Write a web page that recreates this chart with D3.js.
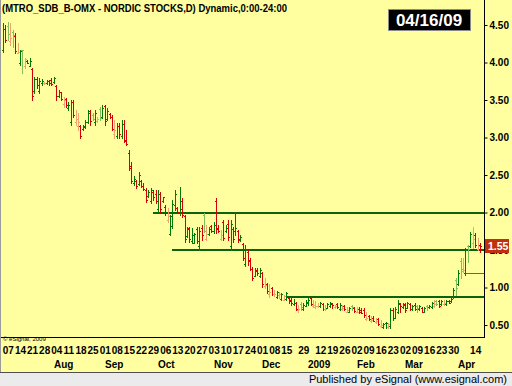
<!DOCTYPE html>
<html>
<head>
<meta charset="utf-8">
<script src="https://cdn.jsdelivr.net/npm/d3@7"></script>
<style>
  html, body { margin: 0; padding: 0; background: #ffffa0; }
  svg { display: block; }
  text { font-family: "Liberation Sans", Arial, sans-serif; }
</style>
</head>
<body>
<div id="chart"></div>
<script>
// Daily trading sessions, grouped by month
var jul08Days = ["2008-07-03","2008-07-04","2008-07-07","2008-07-08","2008-07-09","2008-07-10","2008-07-11","2008-07-14","2008-07-15","2008-07-16","2008-07-17","2008-07-18","2008-07-21","2008-07-22","2008-07-23","2008-07-24","2008-07-25","2008-07-28","2008-07-29","2008-07-30","2008-07-31"];
var aug08Days = ["2008-08-01","2008-08-04","2008-08-05","2008-08-06","2008-08-07","2008-08-08","2008-08-11","2008-08-12","2008-08-13","2008-08-14","2008-08-15","2008-08-18","2008-08-19","2008-08-20","2008-08-21","2008-08-22","2008-08-25","2008-08-26","2008-08-27","2008-08-28","2008-08-29"];
var sep08Days = ["2008-09-01","2008-09-02","2008-09-03","2008-09-04","2008-09-05","2008-09-08","2008-09-09","2008-09-10","2008-09-11","2008-09-12","2008-09-15","2008-09-16","2008-09-17","2008-09-18","2008-09-19","2008-09-22","2008-09-23","2008-09-24","2008-09-25","2008-09-26","2008-09-29","2008-09-30"];
var oct08Days = ["2008-10-01","2008-10-02","2008-10-03","2008-10-06","2008-10-07","2008-10-08","2008-10-09","2008-10-10","2008-10-13","2008-10-14","2008-10-15","2008-10-16","2008-10-17","2008-10-20","2008-10-21","2008-10-22","2008-10-23","2008-10-24","2008-10-27","2008-10-28","2008-10-29","2008-10-30","2008-10-31"];
var nov08Days = ["2008-11-03","2008-11-04","2008-11-05","2008-11-06","2008-11-07","2008-11-10","2008-11-11","2008-11-12","2008-11-13","2008-11-14","2008-11-17","2008-11-18","2008-11-19","2008-11-20","2008-11-21","2008-11-24","2008-11-25","2008-11-26","2008-11-27","2008-11-28"];
var dec08Days = ["2008-12-01","2008-12-02","2008-12-03","2008-12-04","2008-12-05","2008-12-08","2008-12-09","2008-12-10","2008-12-11","2008-12-12","2008-12-15","2008-12-16","2008-12-17","2008-12-18","2008-12-19","2008-12-22","2008-12-23","2008-12-29","2008-12-30"];
var jan09Days = ["2009-01-02","2009-01-05","2009-01-07","2009-01-08","2009-01-09","2009-01-12","2009-01-13","2009-01-14","2009-01-15","2009-01-16","2009-01-19","2009-01-20","2009-01-21","2009-01-22","2009-01-23","2009-01-26","2009-01-27","2009-01-28","2009-01-29","2009-01-30"];
var feb09Days = ["2009-02-02","2009-02-03","2009-02-04","2009-02-05","2009-02-06","2009-02-09","2009-02-10","2009-02-11","2009-02-12","2009-02-13","2009-02-16","2009-02-17","2009-02-18","2009-02-19","2009-02-20","2009-02-23","2009-02-24","2009-02-25","2009-02-26","2009-02-27"];
var mar09Days = ["2009-03-02","2009-03-03","2009-03-04","2009-03-05","2009-03-06","2009-03-09","2009-03-10","2009-03-11","2009-03-12","2009-03-13","2009-03-16","2009-03-17","2009-03-18","2009-03-19","2009-03-20","2009-03-23","2009-03-24","2009-03-25","2009-03-26","2009-03-27","2009-03-30","2009-03-31"];
var apr09Days = ["2009-04-01","2009-04-02","2009-04-03","2009-04-06","2009-04-07","2009-04-08","2009-04-09","2009-04-14","2009-04-15","2009-04-16"];

// Bars per month: [open, high, low, close]
var jul08 = [[4.16,4.53,4.14,4.45],[4.45,4.50,4.27,4.30],[4.48,4.54,4.30,4.38],[4.28,4.53,4.23,4.33],[4.40,4.43,4.21,4.36],[4.35,4.39,4.13,4.15],[4.13,4.26,4.13,4.14],[3.99,4.17,3.97,4.15],[4.17,4.17,3.86,4.16],[3.95,4.06,3.93,4.05],[4.02,4.03,3.99,4.00],[3.96,4.06,3.95,4.02],[3.92,3.93,3.50,3.55],[3.62,3.81,3.59,3.78],[3.78,3.81,3.66,3.70],[3.62,3.79,3.59,3.75],[3.72,3.78,3.70,3.76],[3.72,3.74,3.71,3.73],[3.72,3.77,3.71,3.75],[3.76,3.77,3.70,3.72],[3.77,3.79,3.70,3.71]];
var aug08 = [[3.74,3.81,3.73,3.79],[3.68,3.70,3.50,3.55],[3.55,3.63,3.54,3.61],[3.60,3.61,3.50,3.52],[3.45,3.54,3.41,3.50],[3.52,3.53,3.41,3.43],[3.40,3.47,3.37,3.44],[3.20,3.50,3.17,3.47],[3.47,3.50,3.27,3.30],[3.20,3.37,3.17,3.25],[3.15,3.33,3.10,3.20],[3.15,3.17,2.99,3.02],[3.11,3.17,3.10,3.15],[3.14,3.23,3.13,3.20],[3.20,3.37,3.19,3.33],[3.35,3.37,3.17,3.22],[3.30,3.33,3.23,3.25],[3.20,3.37,3.17,3.33],[3.22,3.27,3.21,3.25],[3.38,3.41,3.23,3.26],[3.28,3.43,3.26,3.40]];
var sep08 = [[3.42,3.43,3.17,3.22],[3.25,3.39,3.23,3.35],[3.32,3.33,3.26,3.28],[3.28,3.30,3.10,3.12],[3.05,3.23,3.00,3.10],[3.02,3.19,3.00,3.15],[3.15,3.19,2.99,3.05],[3.02,3.23,3.00,3.18],[3.18,3.23,2.94,2.97],[2.95,3.10,2.90,2.92],[2.80,2.83,2.57,2.60],[2.62,2.67,2.39,2.42],[2.40,2.49,2.37,2.45],[2.42,2.43,2.33,2.35],[2.38,2.54,2.37,2.50],[2.42,2.43,2.34,2.36],[2.36,2.39,2.30,2.32],[2.30,2.33,2.14,2.17],[2.22,2.30,2.21,2.28],[2.15,2.33,2.13,2.30],[2.28,2.30,2.17,2.20],[2.25,2.30,2.13,2.15]];
var oct08 = [[2.05,2.30,2.01,2.25],[2.25,2.27,2.01,2.05],[2.15,2.21,2.14,2.20],[2.08,2.10,1.97,2.00],[1.90,2.06,1.87,1.95],[1.72,1.97,1.70,1.96],[1.82,2.17,1.79,2.12],[2.10,2.30,2.03,2.25],[2.06,2.07,1.99,2.01],[2.00,2.34,1.97,2.05],[2.15,2.19,1.94,1.97],[1.95,1.97,1.61,1.65],[1.69,1.81,1.67,1.78],[1.80,1.81,1.61,1.65],[1.62,1.79,1.59,1.70],[1.60,1.73,1.59,1.72],[1.78,1.81,1.59,1.62],[1.55,1.81,1.50,1.76],[1.80,1.83,1.63,1.70],[1.97,1.99,1.74,1.76],[1.65,1.83,1.63,1.72],[1.72,1.81,1.70,1.78],[1.82,1.83,1.74,1.75]];
var nov08 = [[1.75,1.87,1.73,1.84],[2.15,2.19,1.73,1.78],[1.80,1.83,1.74,1.76],[1.65,1.77,1.63,1.70],[1.88,1.90,1.63,1.66],[1.75,1.83,1.74,1.80],[1.85,1.90,1.63,1.68],[1.55,1.90,1.50,1.85],[1.78,1.81,1.61,1.65],[1.75,1.99,1.70,1.80],[1.75,1.77,1.61,1.65],[1.63,1.70,1.62,1.68],[1.58,1.59,1.37,1.40],[1.32,1.57,1.29,1.52],[1.48,1.50,1.30,1.35],[1.37,1.39,1.23,1.25],[1.25,1.27,1.10,1.13],[1.16,1.26,1.15,1.22],[1.24,1.26,1.17,1.19],[1.16,1.26,1.14,1.23]];
var dec08 = [[1.20,1.21,1.01,1.05],[1.02,1.13,0.99,1.04],[1.05,1.06,0.93,0.95],[0.92,1.05,0.87,0.94],[0.99,1.01,0.90,0.92],[0.91,0.97,0.89,0.91],[0.88,0.95,0.86,0.94],[0.90,0.94,0.86,0.92],[0.85,0.93,0.83,0.92],[0.84,0.90,0.83,0.89],[0.85,0.94,0.83,0.93],[0.86,0.87,0.79,0.82],[0.84,0.86,0.77,0.79],[0.78,0.85,0.77,0.80],[0.80,0.81,0.70,0.72],[0.70,0.77,0.67,0.71],[0.78,0.81,0.70,0.74],[0.72,0.79,0.70,0.77],[0.76,0.83,0.75,0.81]];
var jan09 = [[0.79,0.86,0.77,0.84],[0.86,0.87,0.77,0.78],[0.75,0.83,0.74,0.77],[0.74,0.82,0.73,0.76],[0.75,0.79,0.74,0.75],[0.75,0.81,0.74,0.79],[0.78,0.79,0.70,0.72],[0.71,0.77,0.70,0.71],[0.73,0.79,0.73,0.78],[0.76,0.81,0.74,0.79],[0.78,0.79,0.73,0.77],[0.74,0.77,0.73,0.76],[0.78,0.79,0.73,0.74],[0.72,0.79,0.70,0.77],[0.71,0.77,0.70,0.73],[0.76,0.77,0.70,0.71],[0.68,0.74,0.67,0.70],[0.68,0.74,0.67,0.73],[0.75,0.77,0.70,0.74],[0.73,0.74,0.67,0.69]];
var feb09 = [[0.68,0.74,0.67,0.68],[0.72,0.74,0.66,0.67],[0.70,0.73,0.66,0.66],[0.70,0.73,0.61,0.63],[0.58,0.67,0.57,0.60],[0.62,0.63,0.57,0.58],[0.56,0.62,0.54,0.57],[0.60,0.62,0.55,0.56],[0.54,0.59,0.53,0.55],[0.58,0.59,0.50,0.52],[0.48,0.57,0.47,0.50],[0.47,0.53,0.46,0.52],[0.53,0.54,0.46,0.53],[0.47,0.53,0.46,0.52],[0.48,0.73,0.46,0.70],[0.70,0.73,0.57,0.60],[0.60,0.74,0.59,0.72],[0.68,0.83,0.66,0.80],[0.78,0.79,0.67,0.76],[0.74,0.79,0.73,0.77]];
var mar09 = [[0.78,0.79,0.67,0.70],[0.73,0.81,0.73,0.79],[0.78,0.79,0.70,0.72],[0.71,0.77,0.70,0.75],[0.77,0.79,0.70,0.72],[0.75,0.77,0.67,0.73],[0.71,0.77,0.70,0.76],[0.73,0.74,0.67,0.68],[0.68,0.74,0.67,0.73],[0.76,0.77,0.70,0.74],[0.74,0.77,0.73,0.76],[0.74,0.81,0.73,0.80],[0.76,0.83,0.74,0.78],[0.82,0.83,0.77,0.78],[0.82,0.83,0.74,0.76],[0.78,0.83,0.77,0.82],[0.78,0.83,0.77,0.80],[0.78,0.83,0.77,0.82],[0.82,0.83,0.79,0.80],[0.82,0.86,0.81,0.85],[0.87,0.99,0.86,0.97],[1.10,1.13,0.90,1.00]];
var apr09 = [[1.05,1.23,1.03,1.20],[1.35,1.39,1.13,1.25],[1.22,1.39,1.21,1.24],[1.20,1.53,1.17,1.50],[1.55,1.57,1.34,1.52],[1.56,1.74,1.54,1.72],[1.60,1.81,1.53,1.65],[1.70,1.73,1.54,1.57],[1.52,1.66,1.50,1.56],[1.57,1.59,1.47,1.55]];

// Axis ticks
var priceTicks = [0.5, 1.0, 1.5, 2.0, 2.5, 3.0, 3.5, 4.0, 4.5];
var dayTicks = ["2008-07-07","2008-07-14","2008-07-21","2008-07-28","2008-08-04","2008-08-11","2008-08-18","2008-08-25","2008-09-01","2008-09-08","2008-09-15","2008-09-22","2008-09-29","2008-10-06","2008-10-13","2008-10-20","2008-10-27","2008-11-03","2008-11-10","2008-11-17","2008-11-24","2008-12-01","2008-12-08","2008-12-15","2008-12-29","2009-01-12","2009-01-19","2009-01-26","2009-02-02","2009-02-09","2009-02-16","2009-02-23","2009-03-02","2009-03-09","2009-03-16","2009-03-23","2009-03-30","2009-04-14"];
var monthTicks = ["2008-08-01","2008-09-01","2008-10-01","2008-11-03","2008-12-01","2009-01-02","2009-02-02","2009-03-02","2009-04-01"];
var monthLabels = ["Aug","Sep","Oct","Nov","Dec","2009","Feb","Mar","Apr"];

// Drawn horizontal lines: level and first date
var lineLevels = [2.00, 1.50, 0.87, 1.19];
var lineStarts = ["2008-09-29","2008-10-09","2008-12-15","2009-04-06"];

var lastPrice = 1.55;

// Step 1: chart area
var svgWidth = 512, svgHeight = 386;
var axisX = 484, plotBottom = 337;

var dates = [].concat(jul08Days, aug08Days, sep08Days, oct08Days, nov08Days, dec08Days, jan09Days, feb09Days, mar09Days, apr09Days);
var bars = [].concat(jul08, aug08, sep08, oct08, nov08, dec08, jan09, feb09, mar09, apr09);
var data = dates.map(function (d, i) {
    return { date: d, open: bars[i][0], high: bars[i][1], low: bars[i][2], close: bars[i][3] };
});

var svg = d3.select("#chart").append("svg")
    .attr("width", svgWidth)
    .attr("height", svgHeight);

svg.append("rect").attr("width", svgWidth).attr("height", 372).attr("fill", "#ffffa0");

// Step 2: scales
var xScale = d3.scalePoint().domain(dates).range([3, 480]);
var yScale = d3.scaleLinear().domain([0.5, 4.5]).range([325, 25]);

// Step 3: support lines
var lineGroup = svg.append("g").attr("class", "lines");
lineLevels.forEach(function (lv, i) {
    var x0 = Math.round(xScale(lineStarts[i]));
    var thin = i === 3;
    lineGroup.append("rect")
        .attr("x", x0)
        .attr("y", Math.round(yScale(lv)) - (thin ? 0 : 1))
        .attr("width", axisX - x0)
        .attr("height", thin ? 1 : 2)
        .attr("fill", thin ? "#2e8b2e" : "#0a650a");
});

// Step 4: OHLC bars, coloured by close vs previous close and close vs open
var colDG = "#007a00", colLG = "#82bf5c", colRD = "#d40000", colOR = "#f2a26c";
function barColor(d, i) {
    var up = i === 0 || d.close >= data[i - 1].close;
    var agree = up ? d.close >= d.open : d.close < d.open;
    return up ? (agree ? colDG : colLG) : (agree ? colRD : colOR);
}

var barGroup = svg.append("g").attr("class", "bars").attr("shape-rendering", "crispEdges");
var barSel = barGroup.selectAll("g").data(data).enter().append("g")
    .attr("fill", barColor);
barSel.append("rect")
    .attr("x", d => Math.round(xScale(d.date)))
    .attr("y", d => Math.round(yScale(d.high)))
    .attr("width", 1)
    .attr("height", d => Math.round(yScale(d.low)) - Math.round(yScale(d.high)) + 1);
barSel.append("rect")
    .attr("x", d => Math.round(xScale(d.date)) - 1)
    .attr("y", d => Math.round(yScale(d.open)))
    .attr("width", 1).attr("height", 1);
barSel.append("rect")
    .attr("x", d => Math.round(xScale(d.date)) + 1)
    .attr("y", d => Math.round(yScale(d.close)))
    .attr("width", 1).attr("height", 1);

// Step 5: axes
var rightAxis = d3.axisRight(yScale)
    .tickValues(priceTicks)
    .tickFormat(d3.format(".2f"))
    .tickSize(3)
    .tickPadding(2);
var yAxisG = svg.append("g")
    .attr("transform", `translate(${axisX + 0.5},0)`)
    .call(rightAxis);
yAxisG.select(".domain").remove();
yAxisG.selectAll("text")
    .attr("font-family", "Liberation Sans, Arial, sans-serif")
    .attr("font-size", 10).attr("font-weight", "bold").attr("fill", "#000");

var bottomAxis = d3.axisBottom(xScale)
    .tickValues(dayTicks)
    .tickFormat(d => d.slice(8))
    .tickSize(0)
    .tickPadding(3);
var xAxisG = svg.append("g")
    .attr("transform", `translate(0,344)`)
    .call(bottomAxis);
xAxisG.select(".domain").remove();
xAxisG.selectAll("text")
    .attr("font-family", "Liberation Sans, Arial, sans-serif")
    .attr("font-size", 10).attr("font-weight", "bold").attr("fill", "#000");

svg.append("g").attr("class", "months")
    .selectAll("text").data(monthTicks).enter().append("text")
    .attr("x", d => Math.round(xScale(d)))
    .attr("y", 368)
    .attr("font-size", 10).attr("font-weight", "bold")
    .text((d, i) => monthLabels[i]);

// frame lines
svg.append("line").attr("x1", axisX + 0.5).attr("x2", axisX + 0.5).attr("y1", 0).attr("y2", plotBottom + 1)
    .attr("stroke", "#000");
svg.append("line").attr("x1", 0).attr("x2", axisX + 1).attr("y1", plotBottom + 0.5).attr("y2", plotBottom + 0.5)
    .attr("stroke", "#000");
svg.append("line").attr("x1", 0.5).attr("x2", 0.5).attr("y1", 0).attr("y2", 372)
    .attr("stroke", "#9a9a9a");

// Step 6: last price marker
var lpY = Math.round(yScale(lastPrice));
svg.append("rect").attr("x", axisX + 1).attr("y", lpY - 7).attr("width", 24).attr("height", 14).attr("fill", "#c0300e");
svg.append("text").attr("x", axisX + 4).attr("y", lpY + 4)
    .attr("font-size", 10.5).attr("font-weight", "bold").attr("fill", "#fff")
    .text(lastPrice.toFixed(2));

// Step 7: titles and stamps
svg.append("text").attr("x", 2).attr("y", 12)
    .attr("font-size", 11).attr("font-weight", "bold")
    .attr("textLength", 285).attr("lengthAdjust", "spacingAndGlyphs")
    .text("(MTRO_SDB_B-OMX - NORDIC STOCKS,D) Dynamic,0:00-24:00");

svg.append("rect").attr("x", 388.5).attr("y", 9.5).attr("width", 82).attr("height", 21)
    .attr("fill", "#000").attr("stroke", "#8a8a8a");
svg.append("text").attr("x", 429).attr("y", 26)
    .attr("text-anchor", "middle")
    .attr("font-size", 17).attr("font-weight", "bold").attr("fill", "#fff")
    .text("04/16/09");

svg.append("text").attr("x", 3).attr("y", 341)
    .attr("font-size", 6).attr("fill", "#000")
    .text("\u00a9 eSignal, 2009");

// bottom band
svg.append("rect").attr("x", 0).attr("y", 372).attr("width", svgWidth).attr("height", 14).attr("fill", "#ebebeb");
svg.append("line").attr("x1", 0).attr("x2", svgWidth).attr("y1", 372.5).attr("y2", 372.5).attr("stroke", "#505050");
svg.append("text").attr("x", 507).attr("y", 383)
    .attr("text-anchor", "end")
    .attr("font-size", 11).attr("fill", "#000")
    .text("Published by eSignal (www.esignal.com)");
</script>
</body>
</html>
